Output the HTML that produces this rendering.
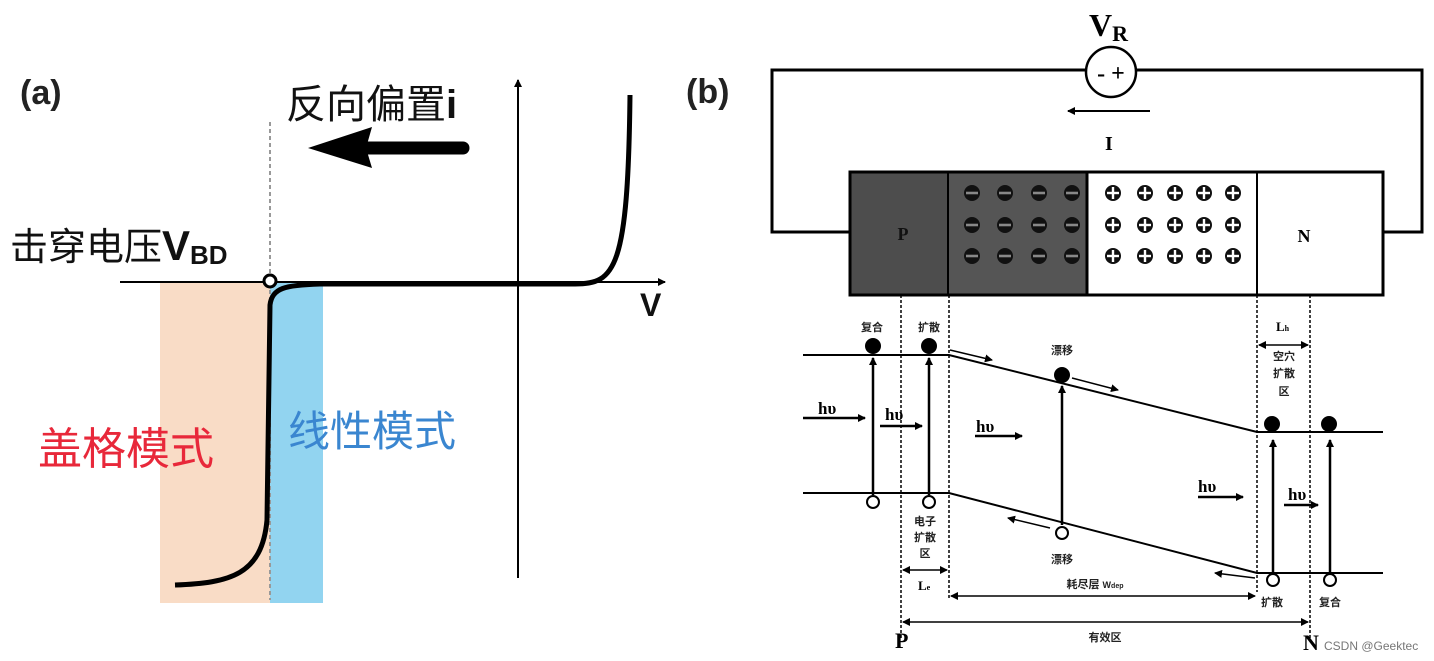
<!DOCTYPE html>
<html><head><meta charset="utf-8"><style>
html,body{margin:0;padding:0;background:#fff;}
svg{display:block;}
.cn{font-family:"Liberation Sans","Noto Sans CJK SC",sans-serif;}
.sf{font-family:"Liberation Serif","Noto Serif CJK SC",serif;font-weight:bold;}
.sm{font-family:"Liberation Sans","Noto Sans CJK SC",sans-serif;font-size:11px;font-weight:bold;fill:#222;}
</style></head><body>
<svg width="1434" height="661" viewBox="0 0 1434 661" xmlns="http://www.w3.org/2000/svg">
<defs>
<marker id="a" markerWidth="8" markerHeight="8" refX="7" refY="4" orient="auto" markerUnits="userSpaceOnUse"><path d="M0,0 L8,4 L0,8 z" fill="#000"/></marker>
<marker id="s" markerWidth="8" markerHeight="8" refX="1" refY="4" orient="auto" markerUnits="userSpaceOnUse"><path d="M8,0 L0,4 L8,8 z" fill="#000"/></marker>
<g id="m"><circle r="8" fill="#111"/><rect x="-6" y="-1.3" width="12" height="2.6" fill="#888"/></g>
<g id="p"><circle r="8" fill="#111"/><rect x="-6" y="-1.2" width="12" height="2.4" fill="#fff"/><rect x="-1.2" y="-6" width="2.4" height="12" fill="#fff"/></g>
</defs>
<!-- (a) -->
<rect x="160" y="282" width="110" height="321" fill="#f9dcc6"/>
<rect x="270" y="282" width="53" height="321" fill="#92d4f0"/>
<line x1="270" y1="122" x2="270" y2="600" stroke="#999" stroke-width="2" stroke-dasharray="4,3"/>
<line x1="120" y1="282" x2="665" y2="282" stroke="#000" stroke-width="2" marker-end="url(#a)"/>
<line x1="518" y1="578" x2="518" y2="80" stroke="#000" stroke-width="2" marker-end="url(#a)"/>
<path d="M175,585 C230,583 262,575 267,520 L270,305 C272,288 285,285 320,284 L575,284 C615,284 628,270 630,95" fill="none" stroke="#000" stroke-width="5"/>
<circle cx="270" cy="281" r="6" fill="#fff" stroke="#000" stroke-width="3"/>
<line x1="345" y1="148" x2="463" y2="148" stroke="#000" stroke-width="13" stroke-linecap="round"/>
<path d="M308,148 L372,127 L366,148 L372,168 z" fill="#000"/>
<text x="20" y="104" class="cn" font-size="34" font-weight="bold" fill="#222">(a)</text>
<text x="286" y="118" class="cn" font-size="40" fill="#111">反向偏置<tspan font-weight="bold">i</tspan></text>
<text x="10" y="260" class="cn" font-size="38" fill="#111">击穿电压<tspan font-weight="bold" font-size="42">V</tspan><tspan font-size="26" font-weight="bold" dy="4">BD</tspan></text>
<text x="640" y="316" class="cn" font-size="32" font-weight="bold" fill="#111">V</text>
<text x="38" y="464" class="cn" font-size="44" fill="#e8283a">盖格模式</text>
<text x="288" y="446" class="cn" font-size="42" fill="#3a86d0">线性模式</text>
<!-- (b) -->
<text x="686" y="103" class="cn" font-size="34" font-weight="bold" fill="#222">(b)</text>
<path d="M1086,70 L772,70 L772,232 L850,232 M1136,70 L1422,70 L1422,232 L1383,232" fill="none" stroke="#000" stroke-width="3"/>
<circle cx="1111" cy="72" r="25" fill="#fff" stroke="#000" stroke-width="2.5"/>
<text x="1111" y="81" text-anchor="middle" class="sf" font-size="24">- +</text>
<text x="1089" y="36" class="sf" font-size="32">V<tspan font-size="22" dy="5">R</tspan></text>
<line x1="1150" y1="111" x2="1068" y2="111" stroke="#000" stroke-width="2" marker-end="url(#a)"/>
<text x="1105" y="150" class="sf" font-size="20">I</text>
<rect x="850" y="172" width="98" height="123" fill="#4d4d4d"/>
<rect x="948" y="172" width="139" height="123" fill="#555"/>
<rect x="850" y="172" width="533" height="123" fill="none" stroke="#000" stroke-width="3"/>
<line x1="948" y1="172" x2="948" y2="295" stroke="#000" stroke-width="2"/>
<line x1="1087" y1="172" x2="1087" y2="295" stroke="#000" stroke-width="3"/>
<line x1="1257" y1="172" x2="1257" y2="295" stroke="#000" stroke-width="2"/>
<text x="903" y="240" text-anchor="middle" class="sf" font-size="18" fill="#111">P</text>
<text x="1304" y="242" text-anchor="middle" class="sf" font-size="18">N</text>
<use href="#m" x="972" y="193"/><use href="#m" x="1005" y="193"/><use href="#m" x="1039" y="193"/><use href="#m" x="1072" y="193"/>
<use href="#m" x="972" y="225"/><use href="#m" x="1005" y="225"/><use href="#m" x="1039" y="225"/><use href="#m" x="1072" y="225"/>
<use href="#m" x="972" y="256"/><use href="#m" x="1005" y="256"/><use href="#m" x="1039" y="256"/><use href="#m" x="1072" y="256"/>
<use href="#p" x="1113" y="193"/><use href="#p" x="1145" y="193"/><use href="#p" x="1175" y="193"/><use href="#p" x="1204" y="193"/><use href="#p" x="1233" y="193"/>
<use href="#p" x="1113" y="225"/><use href="#p" x="1145" y="225"/><use href="#p" x="1175" y="225"/><use href="#p" x="1204" y="225"/><use href="#p" x="1233" y="225"/>
<use href="#p" x="1113" y="256"/><use href="#p" x="1145" y="256"/><use href="#p" x="1175" y="256"/><use href="#p" x="1204" y="256"/><use href="#p" x="1233" y="256"/>
<g stroke="#000" stroke-width="1.5" stroke-dasharray="3,2">
<line x1="901" y1="295" x2="901" y2="640"/><line x1="949" y1="295" x2="949" y2="600"/>
<line x1="1257" y1="295" x2="1257" y2="592"/><line x1="1310" y1="295" x2="1310" y2="640"/>
</g>
<path d="M803,355 L949,355 L1257,432 L1383,432 M803,493 L949,493 L1257,573 L1383,573" fill="none" stroke="#000" stroke-width="2"/>
<g fill="#000"><circle cx="873" cy="346" r="8"/><circle cx="929" cy="346" r="8"/><circle cx="1062" cy="375" r="8"/><circle cx="1272" cy="424" r="8"/><circle cx="1329" cy="424" r="8"/></g>
<g fill="#fff" stroke="#000" stroke-width="2"><circle cx="873" cy="502" r="6"/><circle cx="929" cy="502" r="6"/><circle cx="1062" cy="533" r="6"/><circle cx="1273" cy="580" r="6"/><circle cx="1330" cy="580" r="6"/></g>
<g stroke="#000" stroke-width="2.5" marker-end="url(#a)">
<line x1="873" y1="495" x2="873" y2="358"/><line x1="929" y1="495" x2="929" y2="358"/>
<line x1="1062" y1="525" x2="1062" y2="386"/><line x1="1273" y1="572" x2="1273" y2="440"/><line x1="1330" y1="572" x2="1330" y2="440"/>
<line x1="803" y1="418" x2="865" y2="418"/><line x1="880" y1="426" x2="922" y2="426"/>
<line x1="975" y1="436" x2="1022" y2="436"/><line x1="1198" y1="497" x2="1243" y2="497"/><line x1="1284" y1="505" x2="1318" y2="505"/>
</g>
<g stroke="#000" stroke-width="1.5" marker-end="url(#a)">
<line x1="950" y1="350" x2="992" y2="360"/><line x1="1072" y1="378" x2="1118" y2="390"/>
<line x1="1050" y1="528" x2="1008" y2="518"/><line x1="1255" y1="578" x2="1215" y2="573"/>
</g>
<g stroke="#000" stroke-width="1.5" marker-end="url(#a)" marker-start="url(#s)">
<line x1="903" y1="570" x2="947" y2="570"/><line x1="951" y1="596" x2="1255" y2="596"/>
<line x1="903" y1="622" x2="1308" y2="622"/><line x1="1259" y1="345" x2="1308" y2="345"/>
</g>
<g class="sf" font-size="17">
<text x="818" y="414">hυ</text><text x="885" y="420">hυ</text><text x="976" y="432">hυ</text><text x="1198" y="492">hυ</text><text x="1288" y="500">hυ</text>
</g>
<g class="sm" text-anchor="middle">
<text x="872" y="331">复合</text><text x="929" y="331">扩散</text><text x="1062" y="354">漂移</text><text x="1062" y="563">漂移</text>
<text x="925" y="525">电子</text><text x="925" y="541">扩散</text><text x="925" y="557">区</text>
<text x="1284" y="360">空穴</text><text x="1284" y="377">扩散</text><text x="1284" y="395">区</text>
<text x="1272" y="606">扩散</text><text x="1330" y="606">复合</text>
<text x="1095" y="588">耗尽层 <tspan font-size="9">W<tspan font-size="7">dep</tspan></tspan></text>
<text x="1105" y="641">有效区</text>
</g>
<text x="918" y="590" class="sf" font-size="13">L<tspan font-size="8">e</tspan></text>
<text x="1276" y="331" class="sf" font-size="13">L<tspan font-size="8">h</tspan></text>
<text x="895" y="648" class="sf" font-size="22">P</text>
<text x="1303" y="650" class="sf" font-size="22">N</text>
<text x="1324" y="650" font-family="Liberation Sans,sans-serif" font-size="12" fill="#777">CSDN @Geektec</text>
</svg>
</body></html>
